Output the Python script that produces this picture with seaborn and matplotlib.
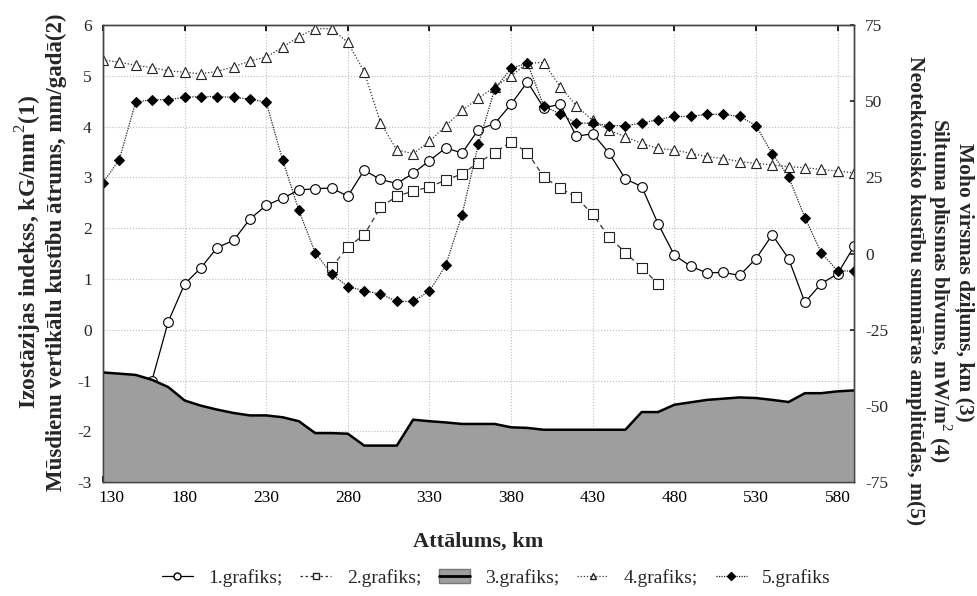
import numpy as np
import pandas as pd
import matplotlib
matplotlib.use("Agg")
import matplotlib.pyplot as plt
import seaborn as sns
from matplotlib.patches import Patch
from matplotlib.lines import Line2D
from matplotlib.transforms import ScaledTranslation

# distances along the profile, km
dist_1 = list(range(160, 600, 10))
dist_2 = list(range(270, 480, 10))
dist_all = list(range(130, 600, 10))

# 1. isostasy index (left axis)
s1 = [-1.0, 0.16, 0.90, 1.22, 1.62, 1.76, 2.18, 2.45, 2.59, 2.75,
      2.78, 2.79, 2.63, 3.14, 2.96, 2.88, 3.08, 3.33, 3.58, 3.48,
      3.94, 4.06, 4.44, 4.88, 4.37, 4.44, 3.81, 3.86, 3.48, 2.97,
      2.82, 2.09, 1.47, 1.25, 1.12, 1.13, 1.07, 1.40, 1.87, 1.40,
      0.54, 0.91, 1.10, 1.64]
# 2. recent vertical movement rate (left axis)
s2 = [1.23, 1.63, 1.87, 2.41, 2.63, 2.73, 2.81, 2.95, 3.07, 3.29,
      3.49, 3.70, 3.49, 3.01, 2.79, 2.61, 2.27, 1.83, 1.52, 1.22, 0.91]
# 3. Moho depth (right axis)
s3 = [-39.0, -39.4, -39.8, -41.4, -43.8, -48.2, -49.9, -51.2, -52.3, -53.1,
      -53.1, -53.7, -55.0, -58.9, -58.9, -59.1, -63.0, -63.0, -63.0, -54.5,
      -55.0, -55.4, -55.9, -55.9, -55.9, -57.0, -57.2, -57.8, -57.8, -57.8,
      -57.8, -57.8, -57.8, -52.0, -52.0, -49.6, -48.8, -48.0, -47.6, -47.2,
      -47.4, -48.0, -48.7, -45.8, -45.8, -45.2, -44.9]
# 4. heat flow density (right axis)
s4 = [63.5, 62.8, 61.8, 61.0, 60.0, 59.5, 59.0, 59.8, 61.3, 63.2,
      64.5, 67.7, 71.2, 73.8, 73.8, 69.3, 59.7, 43.0, 34.0, 32.8,
      36.8, 42.0, 47.0, 51.0, 54.7, 58.3, 62.5, 62.7, 54.8, 48.5,
      43.7, 40.5, 38.3, 36.2, 34.5, 34.0, 32.9, 31.8, 31.2, 30.2,
      29.6, 29.1, 28.5, 28.2, 27.6, 27.1, 26.5]
# 5. neotectonic total amplitude (right axis)
s5 = [23.3, 30.8, 49.7, 50.5, 50.5, 51.3, 51.5, 51.5, 51.3, 50.7,
      49.7, 30.8, 14.2, 0.3, -6.7, -10.8, -12.2, -13.3, -15.7, -15.7,
      -12.3, -3.8, 12.8, 36.0, 54.0, 60.8, 62.5, 48.5, 45.8, 42.8,
      42.8, 42.0, 42.0, 42.8, 44.0, 45.0, 45.0, 45.7, 45.7, 45.0,
      42.0, 32.8, 25.2, 11.8, 0.3, -5.7, -5.7]

x_ticks = [130, 180, 230, 280, 330, 380, 430, 480, 530, 580]
left_ticks = [-3, -2, -1, 0, 1, 2, 3, 4, 5, 6]
right_ticks = [-75, -50, -25, 0, 25, 50, 75]
legend_labels = ["1.grafiks;", "2.grafiks;", "3.grafiks;", "4.grafiks;", "5.grafiks"]

sns.set_theme(style="white")
plt.rcParams['font.family'] = ['Liberation Serif', 'DejaVu Serif']
plt.rcParams['mathtext.fontset'] = 'custom'
plt.rcParams['mathtext.rm'] = 'Liberation Serif'
plt.rcParams['mathtext.bf'] = 'Liberation Serif:bold'
plt.rcParams['axes.unicode_minus'] = False

fig = plt.figure(figsize=(9.77, 5.96), dpi=100)
ax = fig.add_axes([0.1054, 0.191, 0.7686, 0.767])
ax2 = ax.twinx()

df1 = pd.DataFrame({"dist": dist_1, "val": s1})
df2 = pd.DataFrame({"dist": dist_2, "val": s2})
dfr = pd.DataFrame({"dist": dist_all, "moho": s3, "heat": s4, "neo": s5})

# left axis series
sns.lineplot(data=df1, x="dist", y="val", ax=ax, color="black", lw=0.9,
             marker="o", markersize=7, markerfacecolor="white",
             markeredgecolor="black", markeredgewidth=0.8)
sns.lineplot(data=df2, x="dist", y="val", ax=ax, color="#333333", lw=0.9,
             linestyle=(0, (4, 3)), marker="s", markersize=6.5,
             markerfacecolor="white", markeredgecolor="#222222", markeredgewidth=0.8)

# right axis series
ax2.fill_between(dfr["dist"], -75, dfr["moho"], facecolor="#9e9e9e",
                 edgecolor="none", zorder=1)
sns.lineplot(data=dfr, x="dist", y="moho", ax=ax2, color="black", lw=1.8, zorder=2)
sns.lineplot(data=dfr, x="dist", y="heat", ax=ax2, color="#333333", lw=0.9,
             linestyle=(0, (1, 1.5)), marker="^", markersize=7,
             markerfacecolor="white", markeredgecolor="#222222", markeredgewidth=0.8)
sns.lineplot(data=dfr, x="dist", y="neo", ax=ax2, color="#222222", lw=0.9,
             linestyle=(0, (1, 1)), marker="D", markersize=5,
             markerfacecolor="black", markeredgecolor="black")

ax.set_xlim(130, 590)
ax.set_ylim(-3, 6)
ax2.set_ylim(-75, 75)
ax.set_xticks(x_ticks)
ax.set_yticks(left_ticks)
ax2.set_yticks(right_ticks)
ax.grid(True, color="#bdbdbd", linestyle=":", lw=0.8)
ax2.grid(False)

for a in (ax, ax2):
    for sp in a.spines.values():
        sp.set_color("#444444")
        sp.set_linewidth(1.0)
ax.tick_params(axis="x", direction="in", length=4, top=True, bottom=True,
               labelsize=12.5, pad=6, colors="black")
ax.tick_params(axis="y", direction="in", length=0, labelsize=12.5, pad=8)
ax2.tick_params(axis="y", direction="in", length=3, labelsize=12.5, pad=8)

# first x label sits a bit inside the frame
first = ax.get_xticklabels()[0]
first.set_transform(first.get_transform() + ScaledTranslation(0.08, 0, fig.dpi_scale_trans))

ax.set_xlabel("Attālums, km", fontsize=16, fontweight="bold", labelpad=18)
ax.set_ylabel("")
ax2.set_ylabel("")

# left axis title (two lines)
fig.text(0.030, 0.577, "Izostāzijas indekss, kG/mm$^{2}$(1)", rotation=90,
         ha="center", va="center", fontsize=17, fontweight="bold")
fig.text(0.058, 0.577, "Mūsdienu vertikālu kustību ātrums, mm/gadā(2)", rotation=90,
         ha="center", va="center", fontsize=16.5, fontweight="bold")

# right axis title (three lines)
fig.text(0.987, 0.527, "Moho virsmas dziļums, km (3)", rotation=270,
         ha="center", va="center", fontsize=15.5, fontweight="bold")
fig.text(0.962, 0.513, "Siltuma plūsmas blīvums, mW/m$^{2}$ (4)", rotation=270,
         ha="center", va="center", fontsize=15.5, fontweight="bold")
fig.text(0.937, 0.513, "Neotektonisko kustību summāras amplitūdas, m(5)", rotation=270,
         ha="center", va="center", fontsize=15.5, fontweight="bold")

# legend
h1 = Line2D([], [], color="black", lw=0.9, marker="o", markersize=5,
            markerfacecolor="white", markeredgecolor="black")
h2 = Line2D([], [], color="#333333", lw=0.9, linestyle=(0, (2, 2)), marker="s",
            markersize=5, markerfacecolor="white", markeredgecolor="#222222")
h3 = (Patch(facecolor="#9e9e9e", edgecolor="#777777"),
      Line2D([], [], color="black", lw=2))
h4 = Line2D([], [], color="#333333", lw=0.9, linestyle=(0, (1, 1.5)), marker="^",
            markersize=5, markerfacecolor="white", markeredgecolor="#222222")
h5 = Line2D([], [], color="#222222", lw=0.9, linestyle=(0, (1, 1)), marker="D",
            markersize=4, markerfacecolor="black", markeredgecolor="black")
fig.legend([h1, h2, h3, h4, h5], legend_labels, loc="center", ncol=5,
           bbox_to_anchor=(0.508, 0.03), frameon=False, fontsize=14,
           handlelength=1.6, columnspacing=0.9, handletextpad=0.8)

fig.savefig("out.png", dpi=100)
